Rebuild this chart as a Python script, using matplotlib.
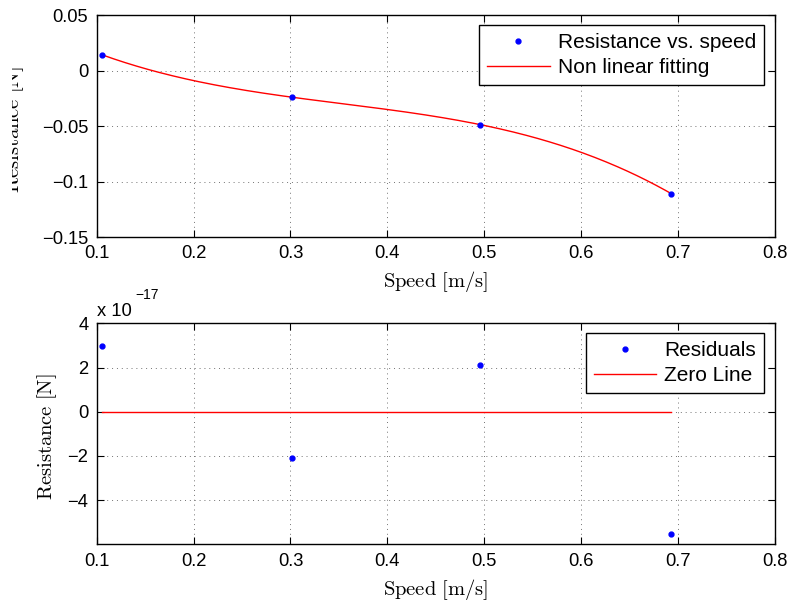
import numpy as np
import matplotlib
matplotlib.use("Agg")
import matplotlib.pyplot as plt
from matplotlib.ticker import FuncFormatter
from matplotlib.patches import Rectangle

# Data
speed = [0.1058, 0.3012, 0.4956, 0.6927]
resistance = [0.0141, -0.0240, -0.0487, -0.1108]
residuals = [2.97e-17, -2.08e-17, 2.10e-17, -5.55e-17]
xticks = [0.1, 0.2, 0.3, 0.4, 0.5, 0.6, 0.7, 0.8]
top_yticks = [-0.15, -0.1, -0.05, 0, 0.05]
top_yticklabels = ["\u22120.15", "\u22120.1", "\u22120.05", "0", "0.05"]
bot_yticks = [-4e-17, -2e-17, 0, 2e-17, 4e-17]

plt.rcParams['font.family'] = ['Liberation Sans', 'DejaVu Sans']
plt.rcParams['mathtext.fontset'] = 'cm'

fig = plt.figure(figsize=(7.91, 6.04), dpi=100)
ax1 = fig.add_axes([0.1222, 0.6076, 0.8576, 0.3675])
ax2 = fig.add_axes([0.1222, 0.0988, 0.8576, 0.3659])

TICK_FS = 13.2
LABEL_FS = 14.8
LEG_FS = 15

# cubic fit through data (the non linear fitting)
coef = np.polyfit(speed, resistance, 3)
xf = np.linspace(min(speed), max(speed), 300)
yf = np.polyval(coef, xf)

ax1.plot(speed, resistance, linestyle='none', marker='o', markersize=3.5,
         color='blue', label='Resistance vs. speed', zorder=3)
ax1.plot(xf, yf, color='red', lw=1.0, label='Non linear fitting', zorder=2)

ax2.plot(speed, residuals, linestyle='none', marker='o', markersize=3.5,
         color='blue', label='Residuals', zorder=3)
ax2.plot([min(speed), max(speed)], [0, 0], color='red', lw=1.0,
         label='Zero Line', zorder=2)

for ax in (ax1, ax2):
    ax.set_xlim(0.1, 0.8)
    ax.set_xticks(xticks)
    ax.set_xticklabels([f"{t:g}" for t in xticks])
    ax.tick_params(direction='in', top=True, right=True, length=5, width=0.8,
                   labelsize=TICK_FS, pad=6)
    ax.grid(True, linestyle=(0, (1, 4)), color='0.45', lw=0.7)
    for s in ax.spines.values():
        s.set_linewidth(1.0)
    ax.set_xlabel(r'$\mathrm{Speed\ [m/s]}$', fontsize=LABEL_FS, labelpad=5)
    ax.set_ylabel(r'$\mathrm{Resistance\ [N]}$', fontsize=LABEL_FS)

ax1.set_ylim(-0.15, 0.05)
ax1.set_yticks(top_yticks)
ax1.set_yticklabels(top_yticklabels)
ax1.yaxis.set_label_coords(-0.1040, 0.485)

ax2.set_ylim(-6e-17, 4e-17)
ax2.set_yticks(bot_yticks)
ax2.yaxis.set_major_formatter(FuncFormatter(
    lambda v, p: f"{v/1e-17:g}".replace('-', '\u2212')))
ax2.yaxis.set_label_coords(-0.0556, 0.488)
ax2.text(0.0, 1.015, 'x 10', transform=ax2.transAxes,
         fontsize=TICK_FS, ha='left', va='bottom')
ax2.text(0.0565, 1.095, '\u221217', transform=ax2.transAxes,
         fontsize=10, ha='left', va='bottom')

leg_kw = dict(loc='upper right', fontsize=LEG_FS, frameon=True, fancybox=False,
              framealpha=1, edgecolor='black', handlelength=3.0, numpoints=1,
              borderpad=0.38, labelspacing=0.3, handletextpad=0.4,
              borderaxespad=0)
l1 = ax1.legend(bbox_to_anchor=(0.9838, 0.955), **leg_kw)
l2 = ax2.legend(bbox_to_anchor=(0.9838, 0.956), **leg_kw)
for l in (l1, l2):
    l.get_frame().set_linewidth(1.0)

# clipped left edge of the top y-label, as in the reference
fig.patches.append(Rectangle((0, 0.6), 12 / 791, 0.4, transform=fig.transFigure,
                             facecolor='white', edgecolor='none', zorder=10))

fig.savefig('out.png', dpi=100)
